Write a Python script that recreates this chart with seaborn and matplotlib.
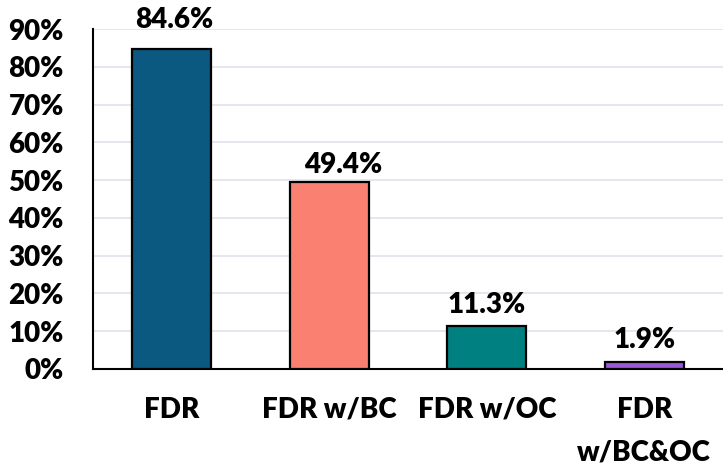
import matplotlib
matplotlib.use("Agg")
import matplotlib.pyplot as plt
import seaborn as sns
import pandas as pd

categories = ["FDR", "FDR w/BC", "FDR w/OC", "FDR\nw/BC&OC"]
values = [84.6, 49.4, 11.3, 1.9]
colors = ["#0b5880", "#fa8072", "#008080", "#9b59d6"]
y_ticks = [0, 10, 20, 30, 40, 50, 60, 70, 80, 90]

sns.set_style("white")
plt.rcParams["font.family"] = ["Lato", "DejaVu Sans"]
plt.rcParams["font.weight"] = "heavy"
plt.rcParams["text.color"] = "black"
plt.rcParams["xtick.color"] = "black"
plt.rcParams["ytick.color"] = "black"

df = pd.DataFrame({"method": categories, "rate": values})

fig = plt.figure(figsize=(7.23, 4.65), dpi=100)
ax = fig.add_axes([0.1286, 0.2065, 0.8714, 0.731])

sns.barplot(data=df, x="method", y="rate", hue="method", palette=colors,
            saturation=1, width=0.5, edgecolor="black", linewidth=1.6,
            legend=False, ax=ax, zorder=3)

ax.set_xlim(-0.5, len(categories) - 0.5)
ax.set_ylim(0, 90)
ax.set_yticks(y_ticks)
ax.set_yticklabels([f"{t}%" for t in y_ticks])
ax.yaxis.grid(True, color="#dfe3ea", linewidth=1.2, zorder=0)
ax.set_axisbelow(True)
ax.set_xlabel("")
ax.set_ylabel("")

for side in ["top", "right"]:
    ax.spines[side].set_visible(False)
for side in ["left", "bottom"]:
    ax.spines[side].set_color("black")
    ax.spines[side].set_linewidth(1.5)

ax.tick_params(axis="y", direction="out", length=8, width=1.5, color="black",
               pad=13, labelsize=20, labelcolor="black")
ax.tick_params(axis="x", which="major", length=0, pad=20, labelsize=20,
               labelcolor="black")
ax.set_xticks([i - 0.5 for i in range(1, len(categories))], minor=True)
ax.tick_params(axis="x", which="minor", direction="out", length=7, width=1.5,
               color="black")
for lab in ax.get_xticklabels() + ax.get_yticklabels():
    lab.set_fontweight("heavy")
for lab in ax.get_xticklabels():
    lab.set_linespacing(1.8)

# Excel style data labels above each bar
label_offsets = [(2, 12), (10, 3), (0, 6), (0, 6)]
for i, v in enumerate(values):
    dx, dy = label_offsets[i]
    ax.annotate(f"{v}%", xy=(i, v), xytext=(dx, dy), textcoords="offset points",
                ha="center", va="bottom", fontsize=20, fontweight="heavy",
                color="black", annotation_clip=False)

fig.savefig("out.png", dpi=100)
